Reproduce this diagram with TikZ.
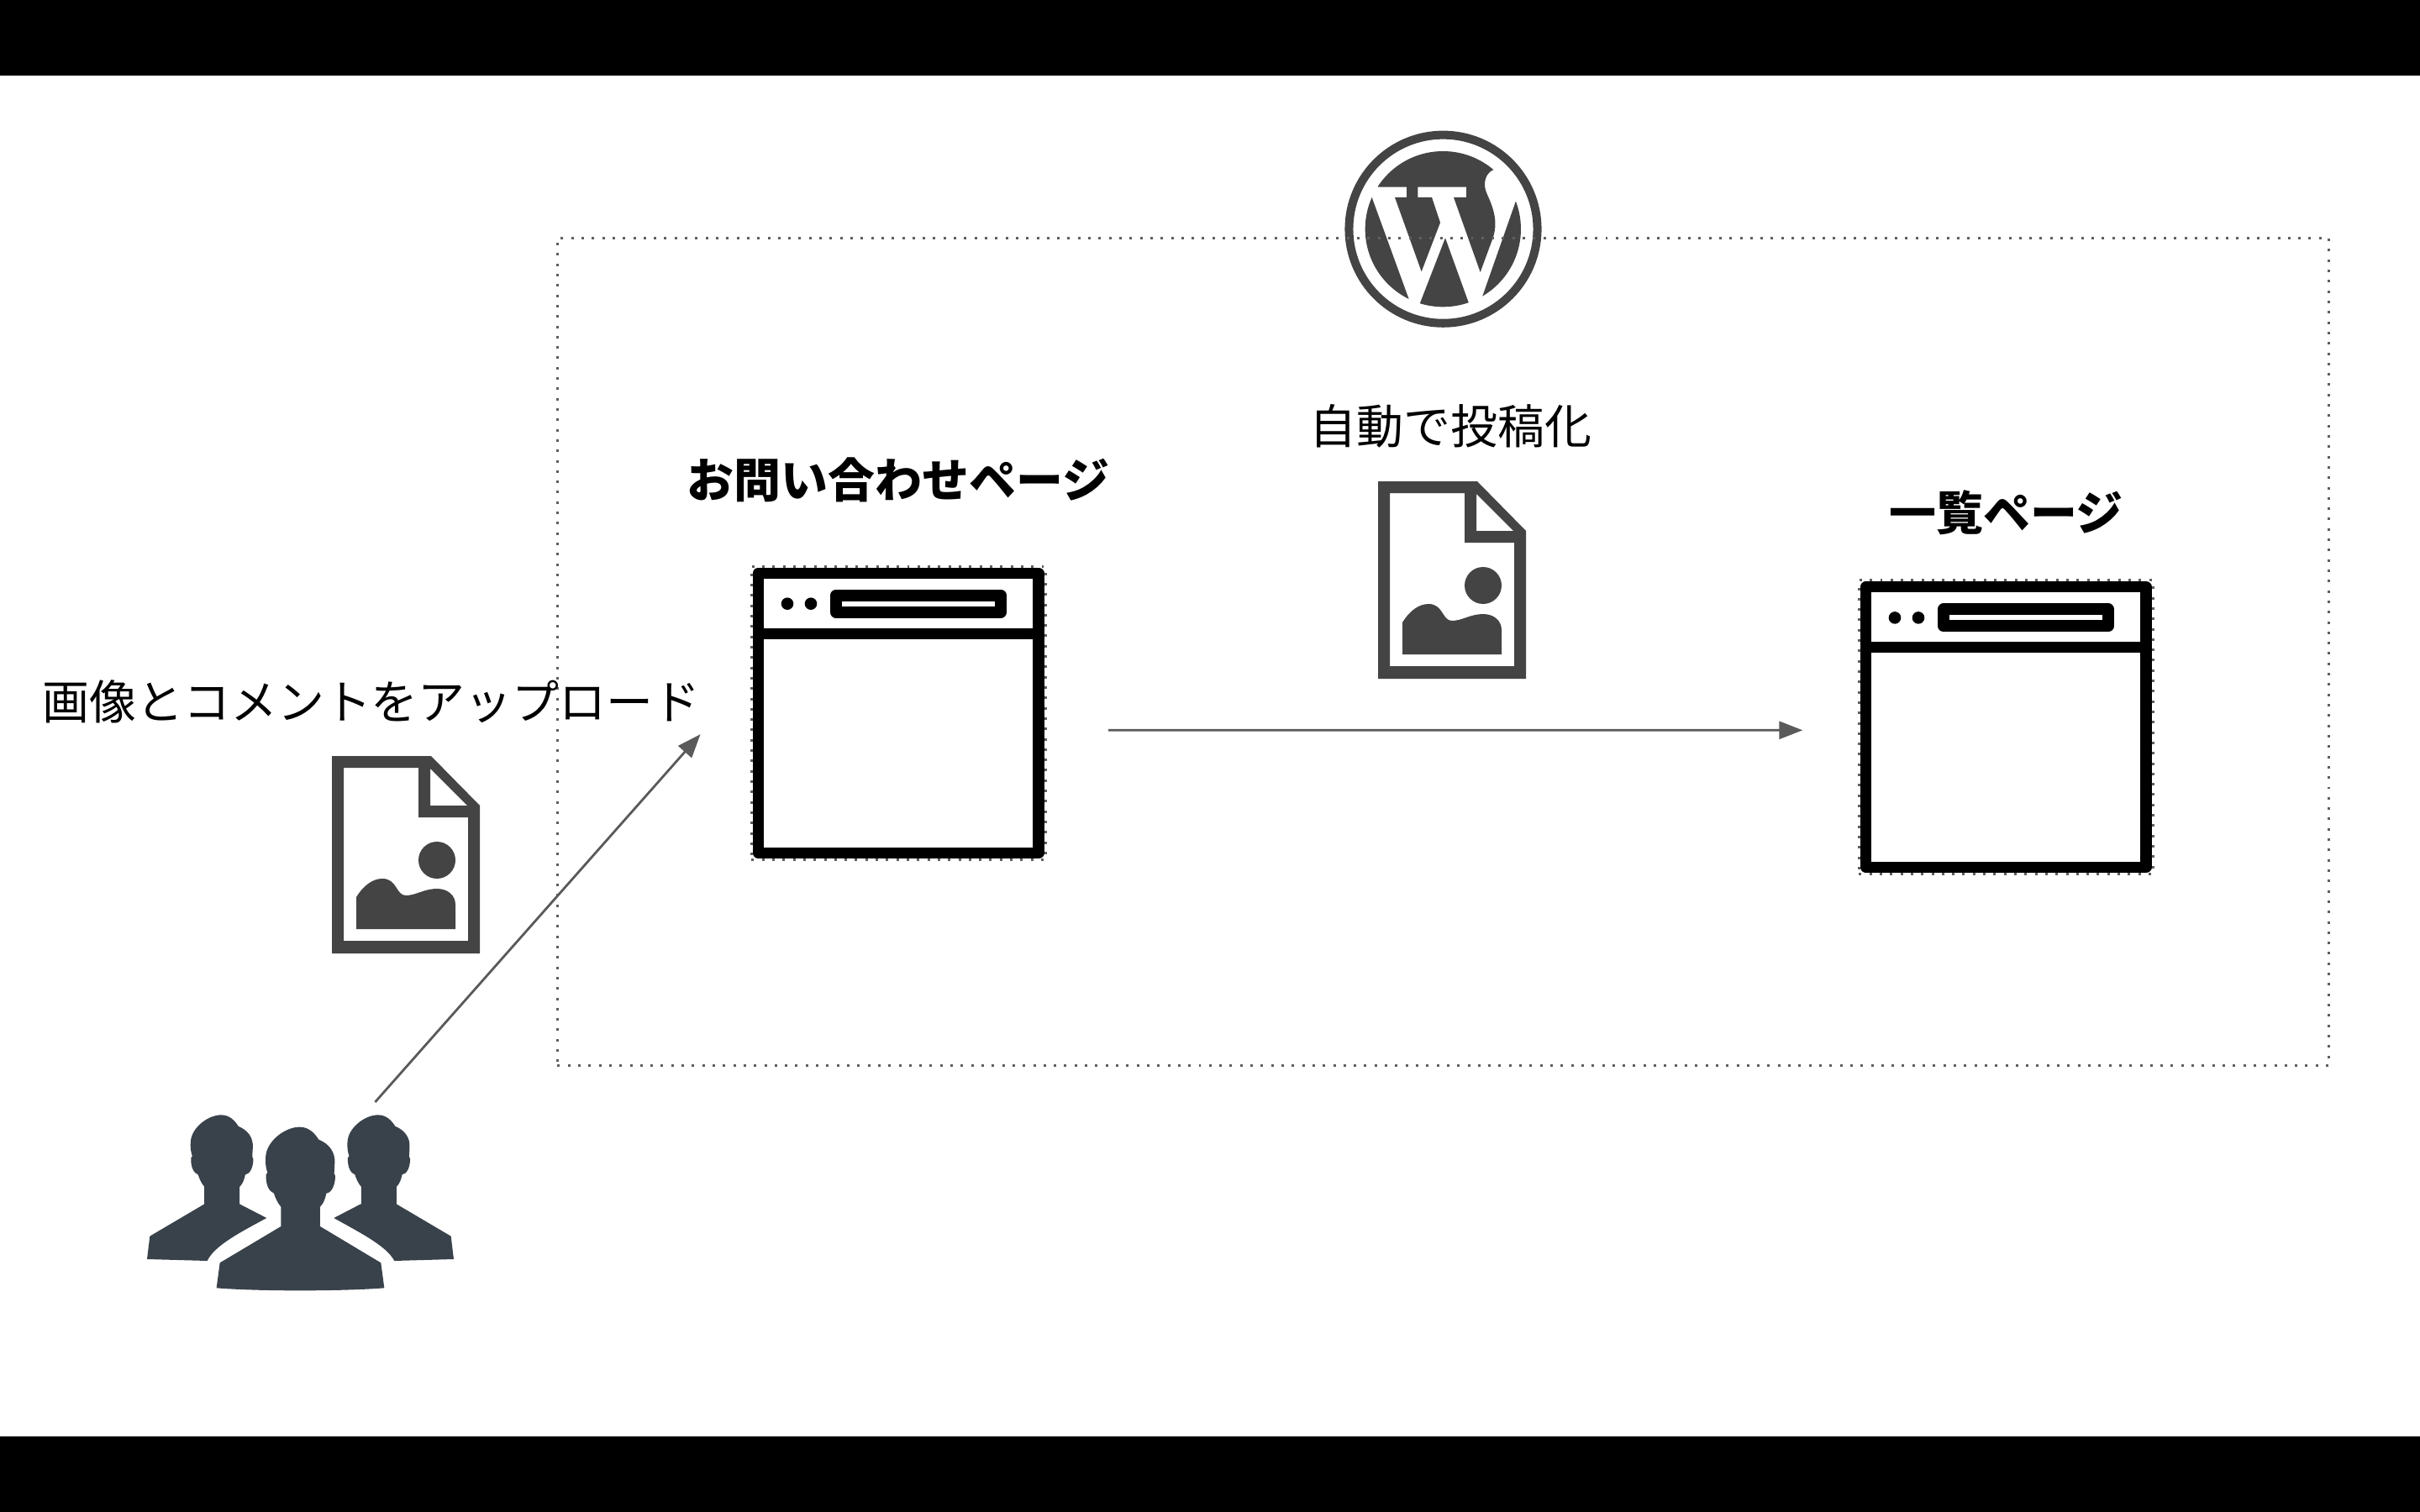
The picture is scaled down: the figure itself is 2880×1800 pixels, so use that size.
\documentclass[tikz,border=0pt]{standalone}
\usepackage{fontspec}
\setmainfont{Noto Sans CJK JP}
\usepackage{xcolor}
\usetikzlibrary{arrows.meta}
\definecolor{icongray}{HTML}{444444}
\definecolor{linegray}{HTML}{5A5A5A}
\definecolor{dotgray}{HTML}{5F5F5F}
\definecolor{peopleblue}{HTML}{39424B}

\begin{document}
\begin{tikzpicture}[x=0.01cm,y=-0.01cm]
  \tikzset{dotframe/.style = {shape=rectangle,draw=dotgray,line width=0.85pt,dash pattern=on 0.85pt off 2.65pt,inner sep=0pt,outer sep=0pt}}
  \tikzset{browser/.style = {dotframe,minimum size=3.497cm}}
  \tikzset{caption/.style = {font=\fontsize{15.9pt}{18pt}\selectfont,inner sep=0pt}}
  \tikzset{title/.style = {caption,font=\fontsize{15.9pt}{18pt}\selectfont\bfseries}}
  \tikzset{flow/.style = {-tipA,draw=linegray,line width=0.8pt}}
  \tikzset{%
  tipA/.tip={Triangle[length=0.28cm,width=0.21cm]},
}
  \tikzset{fileicon/.pic = {
    \fill[icongray,even odd rule] (0,0) -- (118,0) -- (176,59) -- (176,235) -- (0,235) -- cycle
      (14,14) -- (103,14) -- (103,73) -- (162,73) -- (162,220) -- (14,220) -- cycle
      (117,15) -- (161,59) -- (117,59) -- cycle;
    \fill[icongray] (125,124) circle (22);
    \fill[icongray] (29,206) -- (29,168) .. controls (37,155) and (48,146) .. (60,146)
      .. controls (78,146) and (76,166) .. (88,166) .. controls (100,166) and (110,158) .. (125,158)
      .. controls (138,158) and (147,166) .. (147,177) -- (147,206) -- cycle;
  }}
  \tikzset{windowicon/.pic = {
    \draw[black,line width=3.75pt,line join=round] (6.5,6.5) rectangle (340,340);
    \draw[black,line width=3.75pt] (6.5,78.5) -- (340,78.5);
    \fill[black] (41,43) circle (7.3) (69,43) circle (7.3);
    \draw[black,line width=4pt,line join=round] (99,33) rectangle (295,53);
  }}
  \tikzset{personhead/.pic = {
    \fill[peopleblue] (-67,355) -- (-67,285) .. controls (-80,270) and (-88,250) .. (-92,237)
      .. controls (-110,230) and (-122,205) .. (-120,170) -- (-115,163)
      .. controls (-125,135) and (-122,105) .. (-120,95) .. controls (-110,45) and (-50,0) .. (0,0)
      .. controls (35,0) and (55,25) .. (68,45) .. controls (105,60) and (128,90) .. (125,130)
      -- (123,165) -- (127,175) .. controls (127,205) and (115,235) .. (95,237)
      .. controls (92,255) and (85,273) .. (73,285) -- (73,355) -- cycle;
  }}

	% black bars and page
	\fill[white] (0,0) rectangle (2880,1800);
	\fill[black] (0,0) rectangle (2880,90);
	\fill[black] (0,1710) rectangle (2880,1800);

	% wordpress logo
	\node[shape=circle,draw=icongray,line width=2.85pt,minimum size=2.24cm,inner sep=0pt] (logo) at (1717.5,272.7) {};
	\begin{scope}[shift={(1560,140)},scale=1/3]
	\clip (472,398) circle (278);
	\fill[icongray] (240,248) -- (342,248) -- (342,285) -- (300,285) -- (395,550) -- (462,375) -- (432,285)
	  -- (382,285) -- (382,248) -- (555,248) -- (555,285) -- (510,285) -- (605,552) -- (650,430)
	  .. controls (668,375) and (655,330) .. (630,275) .. controls (610,235) and (625,195) .. (655,185)
	  -- (655,100) -- (240,100) -- cycle;
	\fill[icongray] (218,285) -- (350,648) -- (100,648) -- (100,285) -- cycle;
	\fill[icongray] (390,662) -- (480,430) -- (563,660) -- (563,750) -- (390,750) -- cycle;
	\fill[icongray] (732,298) -- (612,640) -- (850,640) -- (850,298) -- cycle;
	\end{scope}

	\node[dotframe,minimum width=21.07cm,minimum height=9.84cm] (site) at (1717.5,776) {};

	% pages
	\node[browser] (form) at (1069.3,849) {};
	\node[browser] (list) at (2387.3,865.7) {};
	\pic (formicon) at (896,675.7) {windowicon};
	\pic (listicon) at (2214,692.4) {windowicon};

	% files
	\pic (upfile) at (395,900) {fileicon};
	\pic (postfile) at (1640,573) {fileicon};

	% people
	\node[minimum width=3.65cm,minimum height=2.1cm,inner sep=0pt] (users) at (357,1432) {};
	\begin{scope}[shift={(140,1300)},scale=1/3]
	\pic[transform shape,scale=0.9] (headL) at (370,82) {personhead};
	\pic[transform shape,scale=0.9] (headR) at (930,82) {personhead};
	\pic[transform shape] (headC) at (650,125) {personhead};
	\fill[peopleblue] (310,400) -- (115,515) -- (105,597) -- (320,603)
	  .. controls (345,550) and (430,505) .. (532,450) -- (435,400) -- cycle;
	\fill[peopleblue] (868,400) -- (772,450) .. controls (870,505) and (960,550) .. (988,603)
	  -- (1200,597) -- (1190,515) -- (995,400) -- cycle;
	\fill[peopleblue] (583,480) -- (365,610) -- (353,700) .. controls (500,712) and (800,712) .. (952,700)
	  -- (940,610) -- (723,480) -- cycle;
	\end{scope}

	% labels
	\node[caption] (uplabel) at (442,835) {画像とコメントをアップロード};
	\node[caption] (postlabel) at (1726.5,507) {自動で投稿化};
	\node[title] (formlabel) at (1069,571) {お問い合わせページ};
	\node[title] (listlabel) at (2387.5,610) {一覧ページ};

	\draw[flow,shorten <=0.19cm,shorten >=0.917cm] (users.54.8) -- (form.166.8);
	\draw[flow,shorten <=0.747cm,shorten >=0.67cm] ([yshift=-0.203cm]form.east) -- ([yshift=-0.036cm]list.west);

\end{tikzpicture}
\end{document}
